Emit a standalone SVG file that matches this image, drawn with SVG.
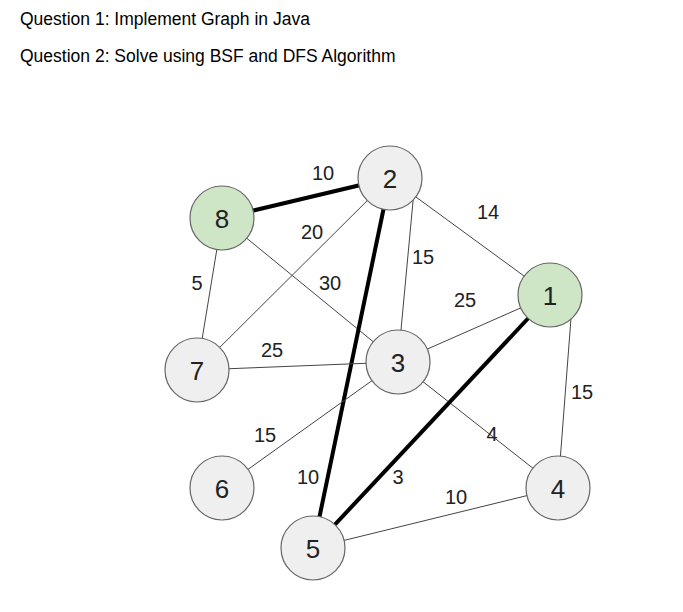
<svg xmlns="http://www.w3.org/2000/svg" width="683" height="612" viewBox="0 0 683 612">
<style>
.t{font-family:"Liberation Sans",Arial,sans-serif;font-size:17.5px;fill:#000}
.n circle{fill:#efefef;stroke:#666;stroke-width:1.2}
.n.g circle{fill:#cfe6c6}
.n text{font-family:"Liberation Sans",Arial,sans-serif;font-size:26px;text-anchor:middle;fill:#222}
.e line{stroke:#444;stroke-width:1}
.e line.b{stroke:#000;stroke-width:4}
.w{font-family:"Liberation Sans",Arial,sans-serif;font-size:20px;text-anchor:middle;fill:#222}
</style>
<rect width="683" height="612" fill="#fff"/>
<text class="t" x="20" y="25">Question 1: Implement Graph in Java</text>
<text class="t" x="20" y="62">Question 2: Solve using BSF and DFS Algorithm</text>
<g id="connectors" class="e">
<line class="b" x1="222" y1="218" x2="390" y2="178"/>
<line x1="222" y1="218" x2="398" y2="362"/>
<line x1="222" y1="218" x2="197" y2="370"/>
<line x1="197" y1="370" x2="390" y2="178"/>
<line class="b" x1="390" y1="178" x2="313" y2="548"/>
<line x1="415" y1="180" x2="398" y2="362"/>
<line x1="390" y1="178" x2="550" y2="295"/>
<line x1="398" y1="362" x2="550" y2="295"/>
<line x1="197" y1="370" x2="398" y2="362"/>
<line x1="398" y1="362" x2="222" y2="488"/>
<line x1="398" y1="362" x2="558" y2="488"/>
<line class="b" x1="550" y1="295" x2="313" y2="548"/>
<line x1="572" y1="305" x2="558" y2="488"/>
<line x1="313" y1="548" x2="558" y2="488"/>
</g>
<g id="weights">
<text class="w" x="323" y="180">10</text>
<text class="w" x="312" y="239">20</text>
<text class="w" x="488" y="219">14</text>
<text class="w" x="423" y="264">15</text>
<text class="w" x="197" y="290">5</text>
<text class="w" x="330" y="290">30</text>
<text class="w" x="465" y="307">25</text>
<text class="w" x="272" y="357">25</text>
<text class="w" x="582" y="399">15</text>
<text class="w" x="265" y="442">15</text>
<text class="w" x="492" y="441">4</text>
<text class="w" x="308" y="484">10</text>
<text class="w" x="398" y="484">3</text>
<text class="w" x="456" y="504">10</text>
</g>
<g id="n8" class="n g"><circle cx="222" cy="218" r="32"/><text x="222" y="228">8</text></g>
<g id="n2" class="n"><circle cx="390" cy="178" r="32"/><text x="390" y="188">2</text></g>
<g id="n1" class="n g"><circle cx="550" cy="295" r="32"/><text x="550" y="305">1</text></g>
<g id="n7" class="n"><circle cx="197" cy="370" r="32"/><text x="197" y="380">7</text></g>
<g id="n3" class="n"><circle cx="398" cy="362" r="32"/><text x="398" y="372">3</text></g>
<g id="n6" class="n"><circle cx="222" cy="488" r="32"/><text x="222" y="498">6</text></g>
<g id="n4" class="n"><circle cx="558" cy="488" r="32"/><text x="558" y="498">4</text></g>
<g id="n5" class="n"><circle cx="313" cy="548" r="32"/><text x="313" y="558">5</text></g>
</svg>
